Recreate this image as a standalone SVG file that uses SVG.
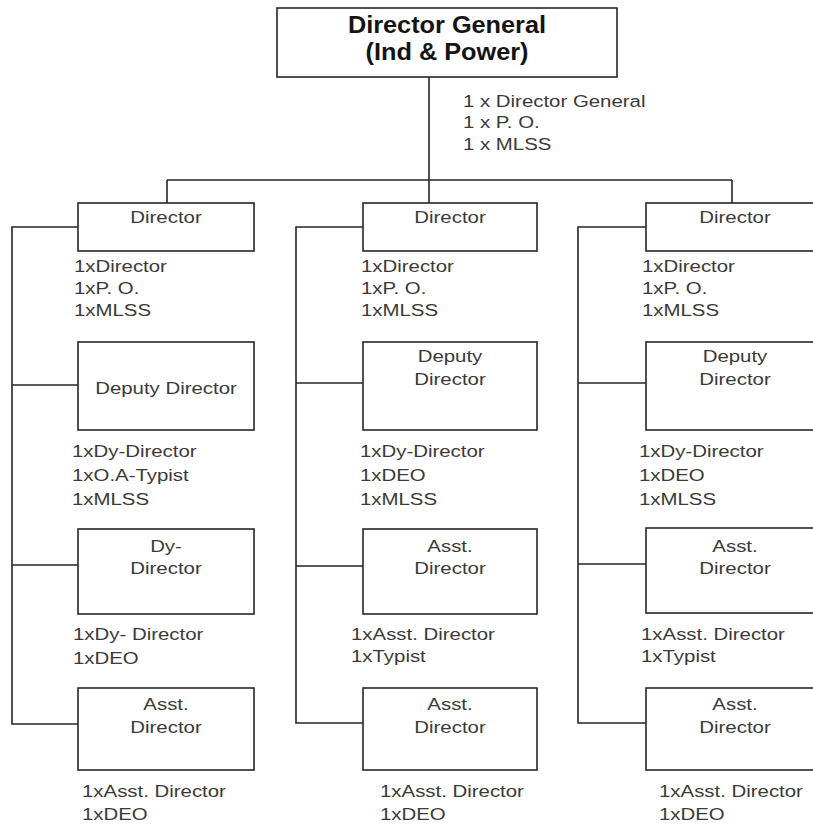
<svg xmlns="http://www.w3.org/2000/svg" width="813" height="825" viewBox="0 0 813 825">
  <style>
    .box { fill: #ffffff; stroke: #262626; stroke-width: 1.6; }
    .wire { fill: none; stroke: #262626; stroke-width: 1.6; }
    .t { font-family: "Liberation Sans", Arial, sans-serif; font-size: 17px; fill: #3a3a3a; }
    .c { text-anchor: middle; }
    .title { font-family: "Liberation Sans", Arial, sans-serif; font-size: 23px; font-weight: bold; fill: #141414; text-anchor: middle; }
  </style>
  <rect width="813" height="825" fill="#ffffff"/>

  <!-- connectors -->
  <g id="connectors" class="wire">
    <path d="M429 77 V203 M167 180 H732 M167 180 V203 M732 180 V203"/>
    <path d="M78 227 H12 V724 H78 M12 385 H78 M12 565 H78"/>
    <path d="M363 227 H296 V723 H363 M296 383 H363 M296 566 H363"/>
    <path d="M646 227 H578 V723 H646 M578 383 H646 M578 564 H646"/>
  </g>

  <!-- head of the wing -->
  <g id="dg">
    <rect class="box" x="277" y="8" width="340" height="69"/>
    <g transform="translate(447 0) scale(1.1 1)">
      <text class="title" x="0" y="33">Director General</text>
      <text class="title" x="0" y="60">(Ind &amp; Power)</text>
    </g>
    <g transform="translate(463 0) scale(1.2 1)">
      <text class="t"><tspan x="0" y="107">1 x Director General</tspan><tspan x="0" y="128.5">1 x P. O.</tspan><tspan x="0" y="150">1 x MLSS</tspan></text>
    </g>
  </g>

  <!-- column 1 -->
  <g id="c1-director">
    <rect class="box" x="78" y="203" width="176" height="48"/>
    <g transform="translate(166 0) scale(1.2 1)"><text class="t c" x="0" y="223">Director</text></g>
    <g transform="translate(74 0) scale(1.2 1)">
      <text class="t"><tspan x="0" y="272">1xDirector</tspan><tspan x="0" y="294">1xP. O.</tspan><tspan x="0" y="316">1xMLSS</tspan></text>
    </g>
  </g>
  <g id="c1-deputy">
    <rect class="box" x="78" y="342" width="176" height="88"/>
    <g transform="translate(166 0) scale(1.2 1)"><text class="t c" x="0" y="394">Deputy Director</text></g>
    <g transform="translate(72 0) scale(1.2 1)">
      <text class="t"><tspan x="0" y="457">1xDy-Director</tspan><tspan x="0" y="481">1xO.A-Typist</tspan><tspan x="0" y="505">1xMLSS</tspan></text>
    </g>
  </g>
  <g id="c1-dy">
    <rect class="box" x="78" y="529" width="176" height="85"/>
    <g transform="translate(166 0) scale(1.2 1)">
      <text class="t c"><tspan x="0" y="552">Dy-</tspan><tspan x="0" y="574">Director</tspan></text>
    </g>
    <g transform="translate(73 0) scale(1.2 1)">
      <text class="t"><tspan x="0" y="640">1xDy- Director</tspan><tspan x="0" y="664">1xDEO</tspan></text>
    </g>
  </g>
  <g id="c1-asst">
    <rect class="box" x="78" y="688" width="176" height="82"/>
    <g transform="translate(166 0) scale(1.2 1)">
      <text class="t c"><tspan x="0" y="710">Asst.</tspan><tspan x="0" y="733">Director</tspan></text>
    </g>
    <g transform="translate(82 0) scale(1.2 1)">
      <text class="t"><tspan x="0" y="797">1xAsst. Director</tspan><tspan x="0" y="820">1xDEO</tspan></text>
    </g>
  </g>

  <!-- column 2 -->
  <g id="c2-director">
    <rect class="box" x="363" y="203" width="174" height="48"/>
    <g transform="translate(450 0) scale(1.2 1)"><text class="t c" x="0" y="223">Director</text></g>
    <g transform="translate(361 0) scale(1.2 1)">
      <text class="t"><tspan x="0" y="272">1xDirector</tspan><tspan x="0" y="294">1xP. O.</tspan><tspan x="0" y="316">1xMLSS</tspan></text>
    </g>
  </g>
  <g id="c2-deputy">
    <rect class="box" x="363" y="342" width="174" height="88"/>
    <g transform="translate(450 0) scale(1.2 1)">
      <text class="t c"><tspan x="0" y="362">Deputy</tspan><tspan x="0" y="385">Director</tspan></text>
    </g>
    <g transform="translate(360 0) scale(1.2 1)">
      <text class="t"><tspan x="0" y="457">1xDy-Director</tspan><tspan x="0" y="481">1xDEO</tspan><tspan x="0" y="505">1xMLSS</tspan></text>
    </g>
  </g>
  <g id="c2-asst1">
    <rect class="box" x="363" y="529" width="174" height="85"/>
    <g transform="translate(450 0) scale(1.2 1)">
      <text class="t c"><tspan x="0" y="552">Asst.</tspan><tspan x="0" y="574">Director</tspan></text>
    </g>
    <g transform="translate(351 0) scale(1.2 1)">
      <text class="t"><tspan x="0" y="640">1xAsst. Director</tspan><tspan x="0" y="662">1xTypist</tspan></text>
    </g>
  </g>
  <g id="c2-asst2">
    <rect class="box" x="363" y="688" width="174" height="82"/>
    <g transform="translate(450 0) scale(1.2 1)">
      <text class="t c"><tspan x="0" y="710">Asst.</tspan><tspan x="0" y="733">Director</tspan></text>
    </g>
    <g transform="translate(380 0) scale(1.2 1)">
      <text class="t"><tspan x="0" y="797">1xAsst. Director</tspan><tspan x="0" y="820">1xDEO</tspan></text>
    </g>
  </g>

  <!-- column 3 -->
  <g id="c3-director">
    <rect class="box" x="646" y="203" width="176" height="48"/>
    <g transform="translate(735 0) scale(1.2 1)"><text class="t c" x="0" y="223">Director</text></g>
    <g transform="translate(642 0) scale(1.2 1)">
      <text class="t"><tspan x="0" y="272">1xDirector</tspan><tspan x="0" y="294">1xP. O.</tspan><tspan x="0" y="316">1xMLSS</tspan></text>
    </g>
  </g>
  <g id="c3-deputy">
    <rect class="box" x="646" y="342" width="176" height="88"/>
    <g transform="translate(735 0) scale(1.2 1)">
      <text class="t c"><tspan x="0" y="362">Deputy</tspan><tspan x="0" y="385">Director</tspan></text>
    </g>
    <g transform="translate(639 0) scale(1.2 1)">
      <text class="t"><tspan x="0" y="457">1xDy-Director</tspan><tspan x="0" y="481">1xDEO</tspan><tspan x="0" y="505">1xMLSS</tspan></text>
    </g>
  </g>
  <g id="c3-asst1">
    <rect class="box" x="646" y="528" width="176" height="85"/>
    <g transform="translate(735 0) scale(1.2 1)">
      <text class="t c"><tspan x="0" y="552">Asst.</tspan><tspan x="0" y="574">Director</tspan></text>
    </g>
    <g transform="translate(641 0) scale(1.2 1)">
      <text class="t"><tspan x="0" y="640">1xAsst. Director</tspan><tspan x="0" y="662">1xTypist</tspan></text>
    </g>
  </g>
  <g id="c3-asst2">
    <rect class="box" x="646" y="688" width="176" height="82"/>
    <g transform="translate(735 0) scale(1.2 1)">
      <text class="t c"><tspan x="0" y="710">Asst.</tspan><tspan x="0" y="733">Director</tspan></text>
    </g>
    <g transform="translate(659 0) scale(1.2 1)">
      <text class="t"><tspan x="0" y="797">1xAsst. Director</tspan><tspan x="0" y="820">1xDEO</tspan></text>
    </g>
  </g>
</svg>
